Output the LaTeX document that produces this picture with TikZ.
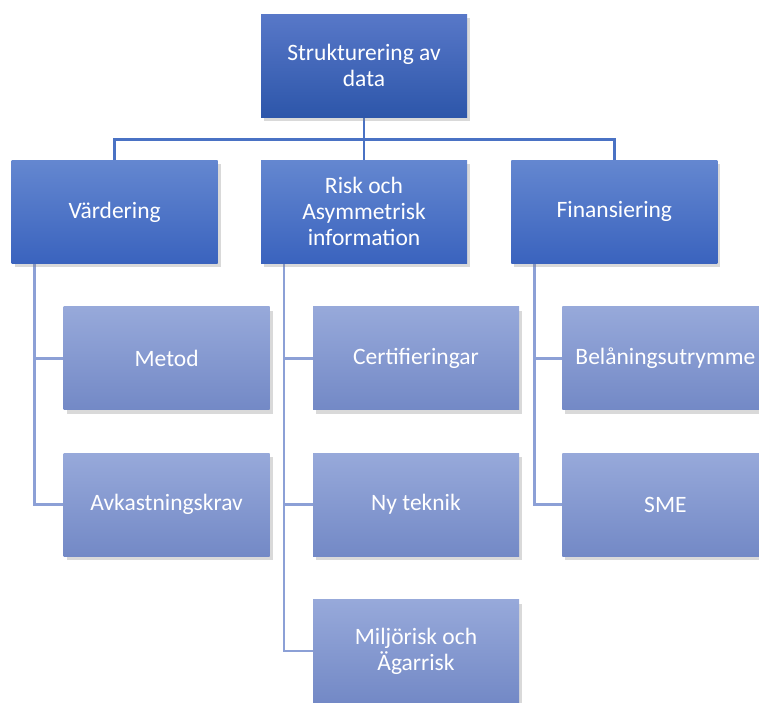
\documentclass[tikz,border=0pt]{standalone}
\usepackage{fontspec}
\setmainfont{Carlito}
\usepackage{tikz}
\usetikzlibrary{positioning,shadows,backgrounds}
\definecolor{topA}{RGB}{88,120,200}
\definecolor{topB}{RGB}{45,86,170}
\definecolor{midA}{RGB}{100,135,208}
\definecolor{midB}{RGB}{58,99,190}
\definecolor{lowA}{RGB}{151,169,218}
\definecolor{lowB}{RGB}{115,137,198}
\definecolor{lineA}{RGB}{74,114,196}
\definecolor{lineB}{RGB}{140,160,214}
\tikzstyle{box}=[rectangle, minimum width=206pt, minimum height=103pt,
               align=center, text=white,
               font=\fontsize{23.5}{26}\selectfont, inner sep=0pt,
               drop shadow={opacity=0.3, shadow xshift=3pt, shadow yshift=-4pt}]
\tikzstyle{root}=[box, top color=topA, bottom color=topB]
\tikzstyle{head}=[box, top color=midA, bottom color=midB]
\tikzstyle{leaf}=[box, top color=lowA, bottom color=lowB]
\tikzstyle{link}=[draw=lineA, line width=2.6pt]
\tikzstyle{sub}=[draw=lineB, line width=2.6pt]

\begin{document}
\begin{tikzpicture}[node distance=43pt]
\useasboundingbox (0,0) rectangle (759pt,-702pt);

% top and first level
\node[root] at (364pt,-65.5pt) (top) {Strukturering av\\data};
\node[head, below=of top] (risk) {Risk och\\Asymmetrisk\\information};
\node[head, left=of risk] (vard) {Värdering};
\node[head, right=44pt of risk] (fin) {Finansiering};

% second level
\node[leaf, below=of vard, xshift=52pt] (metod) {Metod};
\node[leaf, below=of metod] (avk) {Avkastningskrav};
\node[leaf, below=of risk, xshift=52pt] (cert) {Certifieringar};
\node[leaf, below=of cert] (tek) {Ny teknik};
\node[leaf, below=of tek] (milj) {Miljörisk och\\Ägarrisk};
\node[leaf, below=of fin, xshift=51pt] (bel) {Belåningsutrymme};
\node[leaf, below=of bel] (sme) {SME};

\begin{scope}[on background layer]
\draw[link] (top.south) -- ++(0,-22pt) -| (vard.north);
\draw[link] (top.south) -- ++(0,-22pt) -| (fin.north);
\draw[link] (top.south) -- (risk.north);
\foreach \h/\a/\b in {vard/metod/avk, risk/cert/tek, fin/bel/sme}
{
  \draw[sub] (\h.south west) ++(23pt,0) |- (\a.west);
  \draw[sub] (\h.south west) ++(23pt,0) |- (\b.west);
}
\draw[sub] (risk.south west) ++(23pt,0) |- (milj.west);
\end{scope}
\end{tikzpicture}
\end{document}
